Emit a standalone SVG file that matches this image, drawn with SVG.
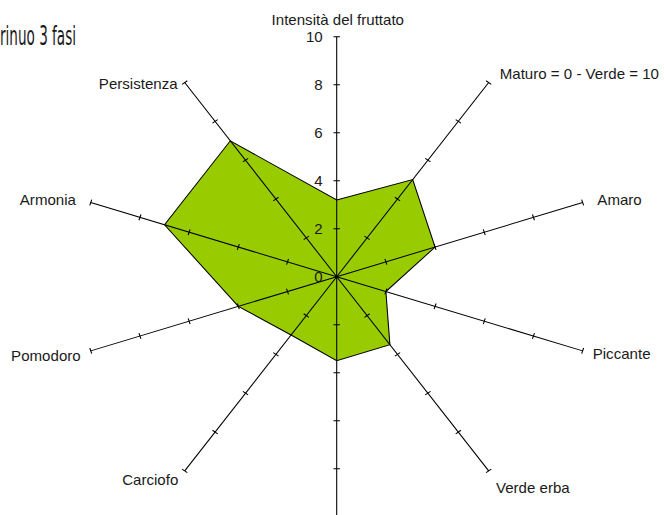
<svg xmlns="http://www.w3.org/2000/svg" xmlns:xlink="http://www.w3.org/1999/xlink" width="664" height="515" viewBox="0 0 664 515">
<style>
.lbl{font-family:"Liberation Sans",Arial,sans-serif;font-size:14px;fill:#1a1a1a}
.tk{font-family:"Liberation Sans",Arial,sans-serif;font-size:14px;fill:#1a1a1a;text-anchor:end}
.ax{stroke:#000;stroke-width:1;fill:none}
.title{font-family:"DejaVu Sans Condensed","DejaVu Sans",sans-serif;font-stretch:condensed;font-size:26px;fill:#1a1a1a}
</style>
<defs>
<g id="axis">
<line class="ax" x1="0" y1="0" x2="0" y2="-240"/>
<path class="ax" d="M-3,-48H3M-3,-96H3M-3,-144H3M-3,-192H3M-3,-240H3"/>
</g>
</defs>
<rect width="664" height="515" fill="#fff"/>
<text class="title" transform="translate(0,45) scale(0.58,1)" x="0" y="0">rinuo 3 fasi</text>
<g transform="translate(336.7,276.7) scale(1.0775,1)">
<g id="data">
<polygon points="0,-76.8 70.53,-97.08 91.30,-29.66 45.65,14.83 49.37,67.96 0,84 -42.32,58.25 -91.30,29.66 -159.78,-51.91 -98.75,-135.91" fill="#99cc00" stroke="#000" stroke-width="1"/>
</g>
<g id="axes">
<use xlink:href="#axis"/>
<use xlink:href="#axis" transform="rotate(36)"/>
<use xlink:href="#axis" transform="rotate(72)"/>
<use xlink:href="#axis" transform="rotate(108)"/>
<use xlink:href="#axis" transform="rotate(144)"/>
<use xlink:href="#axis" transform="rotate(180)"/>
<use xlink:href="#axis" transform="rotate(216)"/>
<use xlink:href="#axis" transform="rotate(252)"/>
<use xlink:href="#axis" transform="rotate(288)"/>
<use xlink:href="#axis" transform="rotate(324)"/>
<circle cx="0" cy="0" r="1.5" fill="#000"/>
</g>
<g id="scale">
<text class="tk" x="-13" y="5">0</text>
<text class="tk" x="-13" y="-43">2</text>
<text class="tk" x="-13" y="-91">4</text>
<text class="tk" x="-13" y="-139">6</text>
<text class="tk" x="-13" y="-187">8</text>
<text class="tk" x="-13" y="-235">10</text>
</g>
<g id="labels">
<text class="lbl" x="1" y="-251.7" text-anchor="middle">Intensità del fruttato</text>
<text class="lbl" x="151.3" y="-197.7">Maturo = 0 - Verde = 10</text>
<text class="lbl" x="241.9" y="-71.7">Amaro</text>
<text class="lbl" x="237.6" y="82.3">Piccante</text>
<text class="lbl" x="147.8" y="216">Verde erba</text>
<text class="lbl" x="-147" y="208.3" text-anchor="end">Carciofo</text>
<text class="lbl" x="-237.6" y="84.3" text-anchor="end">Pomodoro</text>
<text class="lbl" x="-242" y="-71.7" text-anchor="end">Armonia</text>
<text class="lbl" x="-147.6" y="-187.4" text-anchor="end">Persistenza</text>
</g>
</g>
</svg>
